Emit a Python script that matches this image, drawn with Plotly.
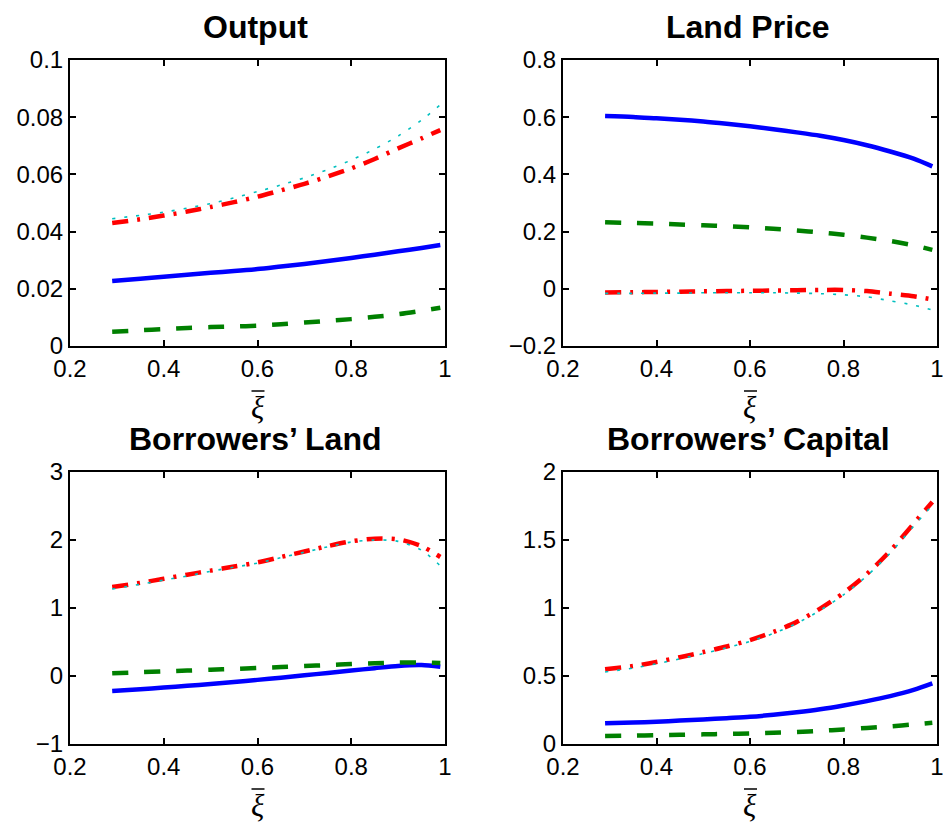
import plotly.graph_objects as go

# Grid of the parameter xi-bar
xi = [0.29, 0.35, 0.40, 0.45, 0.50, 0.55, 0.60, 0.65, 0.70, 0.75, 0.80, 0.85, 0.90, 0.95, 0.99]

# Output
out_solid = [0.0227, 0.0235, 0.0242, 0.0249, 0.0256, 0.0262, 0.0269, 0.0278, 0.0287, 0.0297, 0.0308, 0.0319, 0.0331, 0.0343, 0.0353]
out_dash = [0.0050, 0.0055, 0.0059, 0.0063, 0.0066, 0.0068, 0.0071, 0.0076, 0.0082, 0.0088, 0.0094, 0.0102, 0.0111, 0.0123, 0.0134]
out_dashdot = [0.0430, 0.0443, 0.0456, 0.0470, 0.0486, 0.0503, 0.0522, 0.0544, 0.0567, 0.0593, 0.0621, 0.0654, 0.0691, 0.0726, 0.0755]
out_dot = [0.0445, 0.0457, 0.0468, 0.0482, 0.0498, 0.0518, 0.0540, 0.0563, 0.0588, 0.0617, 0.0650, 0.0689, 0.0734, 0.0790, 0.0843]

# Land price
lp_solid = [0.604, 0.601, 0.596, 0.591, 0.585, 0.577, 0.568, 0.558, 0.547, 0.535, 0.520, 0.502, 0.480, 0.455, 0.428]
lp_dash = [0.233, 0.230, 0.228, 0.225, 0.222, 0.219, 0.215, 0.210, 0.204, 0.197, 0.189, 0.179, 0.167, 0.152, 0.136]
lp_dashdot = [-0.013, -0.012, -0.011, -0.010, -0.009, -0.008, -0.007, -0.006, -0.005, -0.004, -0.004, -0.008, -0.017, -0.026, -0.037]
lp_dot = [-0.016, -0.016, -0.015, -0.015, -0.014, -0.014, -0.014, -0.014, -0.015, -0.017, -0.021, -0.028, -0.042, -0.057, -0.074]

# Borrowers' land
bl_solid = [-0.220, -0.195, -0.170, -0.145, -0.118, -0.088, -0.057, -0.025, 0.010, 0.045, 0.080, 0.115, 0.148, 0.160, 0.135]
bl_dash = [0.040, 0.055, 0.068, 0.080, 0.093, 0.105, 0.118, 0.132, 0.146, 0.160, 0.175, 0.188, 0.197, 0.200, 0.190]
bl_dashdot = [1.31, 1.37, 1.43, 1.49, 1.55, 1.61, 1.67, 1.75, 1.83, 1.91, 1.98, 2.02, 2.01, 1.91, 1.75]
bl_dot = [1.28, 1.35, 1.41, 1.47, 1.54, 1.60, 1.66, 1.74, 1.82, 1.90, 1.97, 2.00, 1.98, 1.85, 1.62]

# Borrowers' capital
bk_solid = [0.152, 0.158, 0.164, 0.172, 0.180, 0.190, 0.200, 0.215, 0.233, 0.255, 0.283, 0.315, 0.352, 0.398, 0.446]
bk_dash = [0.059, 0.062, 0.065, 0.068, 0.071, 0.074, 0.078, 0.083, 0.089, 0.097, 0.107, 0.118, 0.130, 0.144, 0.157]
bk_dashdot = [0.549, 0.573, 0.603, 0.638, 0.676, 0.717, 0.764, 0.824, 0.898, 0.995, 1.110, 1.250, 1.420, 1.620, 1.780]
bk_dot = [0.530, 0.558, 0.590, 0.626, 0.665, 0.707, 0.754, 0.813, 0.887, 0.983, 1.097, 1.236, 1.404, 1.602, 1.755]

titles = ["Output", "Land Price", "Borrowers’ Land", "Borrowers’ Capital"]
panels = [
    (out_solid, out_dash, out_dashdot, out_dot),
    (lp_solid, lp_dash, lp_dashdot, lp_dot),
    (bl_solid, bl_dash, bl_dashdot, bl_dot),
    (bk_solid, bk_dash, bk_dashdot, bk_dot),
]
y_ranges = [(0, 0.1, 0.02), (-0.2, 0.8, 0.2), (-1, 3, 1), (0, 2, 0.5)]

W, H = 943, 823
# axis boxes in pixels: (left, right, top, bottom)
boxes = [(70, 445, 60, 346), (563, 937, 60, 346), (70, 445, 472, 744), (563, 937, 472, 744)]

styles = [
    dict(color="#0000FF", width=4.5, dash="solid"),
    dict(color="#008000", width=4.5, dash="16px,16px"),
    dict(color="#FF0000", width=4.5, dash="16px,9px,3px,9px"),
    dict(color="#00BFBF", width=1.6, dash="3px,9px"),
]

fig = go.Figure()
FONT = "Liberation Sans, Arial, sans-serif"
SERIF = "Liberation Serif, Times New Roman, serif"


def px_x(p):
    return p / W


def px_y(p):
    return 1 - p / H


for i, (series, (y0, y1, dy), (l, r, t, b)) in enumerate(zip(panels, y_ranges, boxes)):
    k = "" if i == 0 else str(i + 1)
    for ys, st in zip(series, styles):
        fig.add_trace(go.Scatter(
            x=xi, y=ys, mode="lines", xaxis="x" + k, yaxis="y" + k,
            line=dict(color=st["color"], width=st["width"], dash=st["dash"], shape="spline", smoothing=0.8),
            showlegend=False, hoverinfo="skip",
        ))
    axis_common = dict(
        showline=True, linecolor="black", linewidth=2, mirror="ticks",
        ticks="inside", ticklen=6, tickwidth=1.5, tickcolor="black",
        showgrid=False, zeroline=False, automargin=False,
        ticklabeloverflow="allow",
        tickfont=dict(family=FONT, size=24, color="black"),
    )
    fig.update_layout(**{
        "xaxis" + k: dict(
            domain=[px_x(l), px_x(r)], anchor="y" + k, range=[0.2, 1],
            tickmode="linear", tick0=0.2, dtick=0.2,
            **axis_common,
        ),
        "yaxis" + k: dict(
            domain=[px_y(b), px_y(t)], anchor="x" + k, range=[y0, y1],
            tickmode="linear", tick0=y0, dtick=dy,
            **axis_common,
        ),
    })
    cx = (l + r) / 2
    # panel title
    fig.add_annotation(
        text="<b>" + titles[i] + "</b>", xref="paper", yref="paper",
        x=px_x(cx - 2), y=px_y(t - 33), xanchor="center", yanchor="middle",
        showarrow=False, font=dict(family=FONT, size=32, color="black"),
    )
    # x-axis label: xi with a bar above it
    fig.add_annotation(
        text="<i>ξ</i>", xref="paper", yref="paper",
        x=px_x(cx), y=px_y(b + 61), xanchor="center", yanchor="middle",
        showarrow=False, font=dict(family=SERIF, size=31, color="black"),
    )
    fig.add_shape(
        type="line", xref="paper", yref="paper",
        x0=px_x(cx - 6), x1=px_x(cx + 7), y0=px_y(b + 45), y1=px_y(b + 45),
        line=dict(color="black", width=1.5),
    )

fig.update_layout(
    width=W, height=H, margin=dict(l=0, r=0, t=0, b=0),
    paper_bgcolor="white", plot_bgcolor="white",
)

fig.write_html("out.html")
